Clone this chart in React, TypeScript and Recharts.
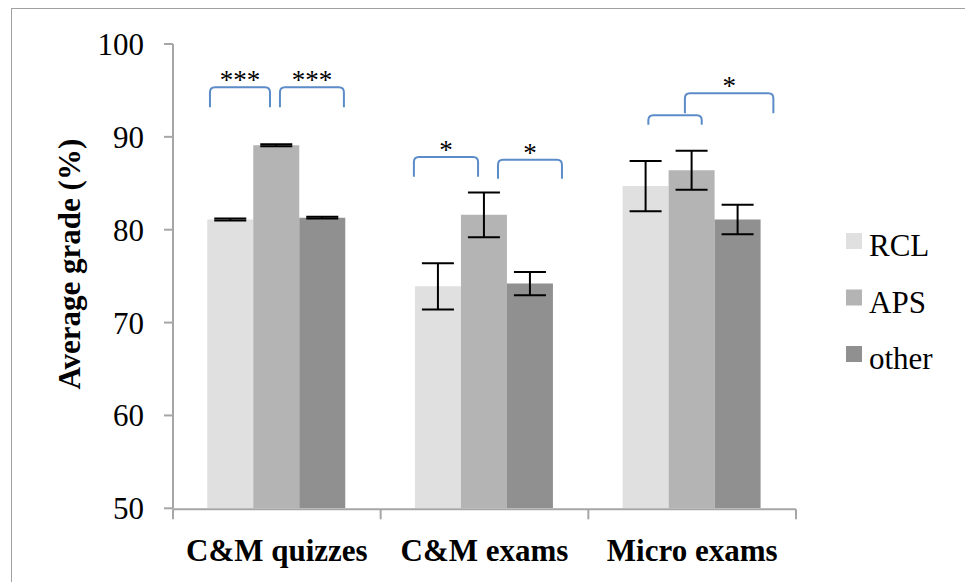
import React from 'react';
import { BarChart, Bar, XAxis, YAxis, ErrorBar, Legend, ReferenceLine, Label } from 'recharts';

const categories = ['C&M quizzes', 'C&M exams', 'Micro exams'];
const rclValues = [81.1, 73.9, 84.7];
const apsValues = [89.1, 81.6, 86.4];
const otherValues = [81.3, 74.2, 81.1];
const rclErrors = [0.1, 2.5, 2.7];
const apsErrors = [0.1, 2.4, 2.1];
const otherErrors = [0.1, 1.25, 1.6];
const yTicks = [50, 60, 70, 80, 90, 100];
const boundaryTicks = [0, 1, 2, 3];
const seriesOrder = ['RCL', 'APS', 'other'];

// significance brackets: x in category units (0..3), y in grade units
const bracketX1 = [0.178, 0.515, 1.16, 1.565, 2.289, 2.465];
const bracketX2 = [0.467, 0.823, 1.469, 1.873, 2.546, 2.891];
const bracketTop = [95.35, 95.35, 87.83, 87.53, 92.34, 94.7];
const bracketBottom = [93.2, 93.2, 85.7, 85.49, 91.3, 92.55];
const bracketLabels = ['***', '***', '*', '*', '', '*'];

const data = categories.map((c, i) => ({
  name: c,
  pos: i + 0.5,
  RCL: rclValues[i],
  APS: apsValues[i],
  other: otherValues[i],
  rclErr: rclErrors[i],
  apsErr: apsErrors[i],
  otherErr: otherErrors[i],
}));

const FONT = '"Liberation Serif", "Times New Roman", Times, serif';
const AXIS_COLOR = '#a6a6a6';
const BRACKET_COLOR = '#5b8cc9';

const makeBracket = (label: string) => (props: any) => {
  const { x1, y1, x2, y2 } = props;
  const top = Math.min(y1, y2);
  const bot = Math.max(y1, y2);
  const r = 5;
  const d = `M${x1},${bot} L${x1},${top + r} Q${x1},${top} ${x1 + r},${top} L${x2 - r},${top} Q${x2},${top} ${x2},${top + r} L${x2},${bot}`;
  return (
    <g>
      <path d={d} fill="none" stroke={BRACKET_COLOR} strokeWidth={2} />
      {label ? (
        <text x={(x1 + x2) / 2} y={top + 2} textAnchor="middle" fontSize={27} fontFamily={FONT} fill="#000">
          {label}
        </text>
      ) : null}
    </g>
  );
};

const CategoryTick = (props: any) => {
  const { x, y, payload } = props;
  return (
    <text x={x} y={y} dy={53} textAnchor="middle" fontSize={31} fontWeight="bold" fontFamily={FONT} fill="#000">
      {payload.value}
    </text>
  );
};

const renderYTitle = (props: any) => {
  const vb = props.viewBox || { x: 0, y: 44, width: 173, height: 465 };
  const cx = vb.x + 70;
  const cy = vb.y + vb.height / 2 - 12;
  return (
    <text
      x={cx}
      y={cy}
      transform={`rotate(-90, ${cx}, ${cy})`}
      textAnchor="middle"
      dominantBaseline="central"
      fontSize={31}
      fontWeight="bold"
      fontFamily={FONT}
      fill="#000"
    >
      Average grade (%)
    </text>
  );
};

const renderLegend = (props: any) => {
  const payload = [...(props.payload || [])].sort(
    (a: any, b: any) => seriesOrder.indexOf(a.dataKey) - seriesOrder.indexOf(b.dataKey)
  );
  return (
    <svg width={130} height={180} style={{ overflow: 'visible' }}>
      {payload.map((p: any, i: number) => (
        <g key={p.value}>
          <rect x={0} y={i * 56.5} width={16} height={16} fill={p.color} />
          <text x={23} y={i * 56.5 + 23} fontSize={31} fontFamily={FONT} fill="#000">
            {p.value}
          </text>
        </g>
      ))}
    </svg>
  );
};

export default function App() {
  return (
    <div style={{ position: 'absolute', left: 0, top: 0, width: 965, height: 582, background: '#fff' }}>
      <div
        style={{
          position: 'absolute',
          left: 11,
          top: 8,
          width: 2000,
          height: 2000,
          borderLeft: '1.5px solid #a0a0a0',
          borderTop: '1.5px solid #a0a0a0',
          boxSizing: 'border-box',
        }}
      />
      <div style={{ position: 'absolute', left: 0, top: 0 }}>
        <BarChart
          width={965}
          height={582}
          data={data}
          margin={{ top: 44, right: 169, bottom: 71.7, left: 0 }}
          barCategoryGap="16.5%"
          barGap={0}
        >
          <XAxis
            dataKey="name"
            type="category"
            height={1}
            axisLine={false}
            tickLine={false}
            tickSize={0}
            tickMargin={0}
            tick={<CategoryTick />}
            interval={0}
          />
          <XAxis
            xAxisId="b"
            dataKey="pos"
            type="number"
            domain={[0, 3]}
            ticks={boundaryTicks}
            interval={0}
            height={1}
            axisLine={{ stroke: AXIS_COLOR, strokeWidth: 2 }}
            tickLine={{ stroke: AXIS_COLOR, strokeWidth: 2 }}
            tickSize={10}
            tickFormatter={() => ''}
            allowDataOverflow
          />
          <YAxis
            domain={[50, 100]}
            ticks={yTicks}
            width={173}
            interval={0}
            axisLine={{ stroke: AXIS_COLOR, strokeWidth: 2 }}
            tickLine={{ stroke: AXIS_COLOR, strokeWidth: 2 }}
            tickSize={9}
            tickMargin={20}
            tick={{ fontSize: 31, fill: '#000', fontFamily: FONT }}
            allowDataOverflow
          >
            <Label content={renderYTitle} />
          </YAxis>
          <Bar dataKey="RCL" fill="#e0e0e0" isAnimationActive={false}>
            <ErrorBar dataKey="rclErr" width={16} stroke="#000" strokeWidth={2} />
          </Bar>
          <Bar dataKey="APS" fill="#b4b4b4" isAnimationActive={false}>
            <ErrorBar dataKey="apsErr" width={16} stroke="#000" strokeWidth={2} />
          </Bar>
          <Bar dataKey="other" fill="#909090" isAnimationActive={false}>
            <ErrorBar dataKey="otherErr" width={16} stroke="#000" strokeWidth={2} />
          </Bar>
          {bracketX1.map((x1, i) => (
            <ReferenceLine
              key={`br${i}`}
              xAxisId="b"
              segment={[
                { x: x1, y: bracketTop[i] },
                { x: bracketX2[i], y: bracketBottom[i] },
              ]}
              ifOverflow="visible"
              shape={makeBracket(bracketLabels[i])}
            />
          ))}
          <Legend
            layout="vertical"
            align="center"
            verticalAlign="middle"
            width={130}
            content={renderLegend}
            wrapperStyle={{ left: 846, top: 233, width: 130, height: 180 }}
          />
        </BarChart>
      </div>
    </div>
  );
}
